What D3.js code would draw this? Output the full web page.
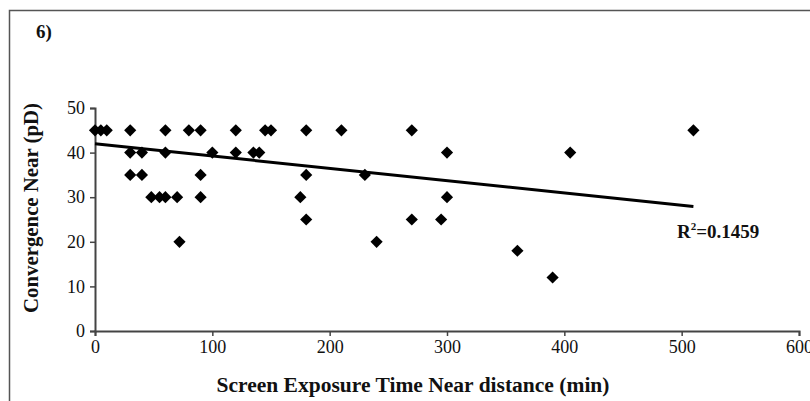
<!DOCTYPE html>
<html>
<head>
<meta charset="utf-8">
<script src="https://cdn.jsdelivr.net/npm/d3@7/dist/d3.min.js"></script>
<style>
  html, body { margin: 0; padding: 0; background: #fff; }
  svg { display: block; }
  text { font-family: "Liberation Serif", "Times New Roman", serif; fill: #111; }
</style>
</head>
<body>
<svg id="chart" width="810" height="401"></svg>
<script>
// ---- data ----
const exposureMin = [0, 5, 10, 30, 60, 80, 90, 120, 145, 150, 180, 210, 270, 510,
                     30, 40, 60, 100, 120, 135, 140, 300, 405,
                     30, 40, 90, 180, 230,
                     48, 55, 60, 70, 90, 175, 300,
                     180, 270, 295,
                     72, 240,
                     360, 390];
const convergenceNear = [45, 45, 45, 45, 45, 45, 45, 45, 45, 45, 45, 45, 45, 45,
                         40, 40, 40, 40, 40, 40, 40, 40, 40,
                         35, 35, 35, 35, 35,
                         30, 30, 30, 30, 30, 30, 30,
                         25, 25, 25,
                         20, 20,
                         18, 12];
const trendX = [0, 510];
const trendY = [42.0, 27.9];
const xTicks = [0, 100, 200, 300, 400, 500, 600];
const yTicks = [0, 10, 20, 30, 40, 50];
const panelLabel = "6)";
const xTitle = "Screen Exposure Time Near distance (min)";
const yTitle = "Convergence Near (pD)";
const r2Label = "0.1459";

// ---- layout ----
const svg = d3.select("#chart");
const x = d3.scaleLinear().domain([0, 600]).range([95, 799]);
const y = d3.scaleLinear().domain([0, 50]).range([331, 108]);

// frame
svg.append("rect")
  .attr("x", 9.5).attr("y", 10.5).attr("width", 900).attr("height", 500)
  .attr("fill", "none").attr("stroke", "#555").attr("stroke-width", 1.5);

// panel label
svg.append("text").attr("x", 36).attr("y", 38)
  .attr("font-size", 19).attr("font-weight", "bold").text(panelLabel);

// axes
const axisColor = "#444";
const gx = svg.append("g").attr("transform", `translate(0,${y(0)})`)
  .call(d3.axisBottom(x).tickValues(xTicks).tickSize(5).tickPadding(4).tickFormat(d3.format("d")));
const gy = svg.append("g").attr("transform", `translate(${x(0)},0)`)
  .call(d3.axisLeft(y).tickValues(yTicks).tickSize(5).tickPadding(5).tickFormat(d3.format("d")));
[gx, gy].forEach(g => {
  g.select(".domain").attr("stroke", axisColor).attr("stroke-width", 2);
  g.selectAll(".tick line").attr("stroke", axisColor).attr("stroke-width", 1.5);
  g.selectAll(".tick text").attr("font-family", "Liberation Serif, serif")
    .attr("font-size", 18).attr("fill", "#222");
});

// trend line
svg.append("line")
  .attr("x1", x(trendX[0])).attr("y1", y(trendY[0]))
  .attr("x2", x(trendX[1])).attr("y2", y(trendY[1]))
  .attr("stroke", "#000").attr("stroke-width", 3);

// points (diamonds)
const sym = d3.symbol().type(d3.symbolSquare).size(74);
svg.append("g").selectAll("path")
  .data(exposureMin.map((v, i) => [v, convergenceNear[i]]))
  .join("path")
  .attr("d", sym)
  .attr("transform", d => `translate(${x(d[0])},${y(d[1])}) rotate(45)`)
  .attr("fill", "#000");

// R² label
const r2 = svg.append("text").attr("x", 677).attr("y", 238)
  .attr("font-size", 19).attr("font-weight", "bold");
r2.append("tspan").text("R");
r2.append("tspan").attr("font-size", 11).attr("dy", -8).text("2");
r2.append("tspan").attr("dy", 8).text("=" + r2Label);

// axis titles
svg.append("text")
  .attr("x", 413).attr("y", 392).attr("text-anchor", "middle")
  .attr("font-size", 20).attr("font-weight", "bold")
  .attr("textLength", 393).attr("lengthAdjust", "spacingAndGlyphs")
  .text(xTitle);
svg.append("text")
  .attr("transform", "translate(38,208) rotate(-90)")
  .attr("text-anchor", "middle")
  .attr("font-size", 20).attr("font-weight", "bold")
  .attr("textLength", 210).attr("lengthAdjust", "spacingAndGlyphs")
  .text(yTitle);
</script>
</body>
</html>
